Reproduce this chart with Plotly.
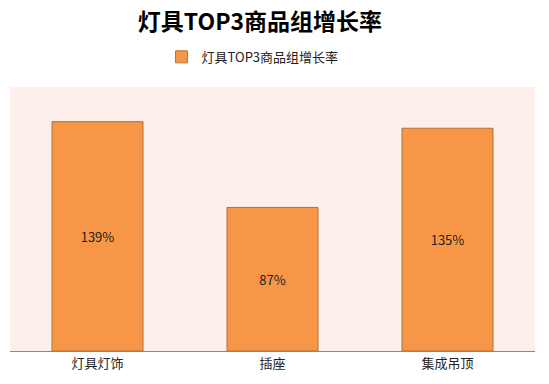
import plotly.graph_objects as go

categories = ["灯具灯饰", "插座", "集成吊顶"]
values = [139, 87, 135]
labels = ["139%", "87%", "135%"]
series_name = "灯具TOP3商品组增长率"
title = "灯具TOP3商品组增长率"

fig = go.Figure()
fig.add_trace(go.Bar(
    x=categories, y=values, name=series_name,
    text=labels, textposition="inside", insidetextanchor="middle",
    textfont=dict(size=13, color="#222222"),
    marker=dict(color="#F79646", line=dict(color="#B5703B", width=1)),
    width=0.52, showlegend=True,
))
fig.update_layout(
    width=549, height=384,
    margin=dict(l=2, r=22, t=79, b=41),
    paper_bgcolor="white", plot_bgcolor="#FDEFE9",
    font=dict(family="Noto Sans CJK SC", color="#222222"),
    title=dict(text="<b>" + title + "</b>", x=0.459, xanchor="center", y=0.963, yanchor="middle",
               font=dict(size=23, color="#000000")),
    legend=dict(orientation="h", x=0.462, xanchor="center", y=1.114, yanchor="middle",
                font=dict(size=13, color="#222222"), itemwidth=30),
    bargap=0.48,
    xaxis=dict(showline=True, linecolor="#888888", linewidth=1, ticks="",
               tickfont=dict(size=13, color="#222222")),
    yaxis=dict(range=[0, 160], visible=False, showgrid=False),
)
fig.write_html("out.html")
